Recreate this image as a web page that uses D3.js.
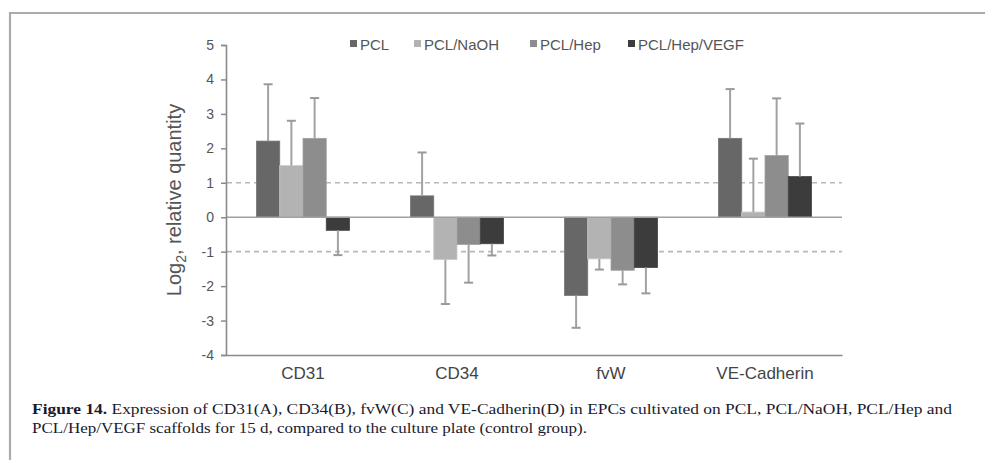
<!DOCTYPE html>
<html>
<head>
<meta charset="utf-8">
<script src="https://cdn.jsdelivr.net/npm/d3@7"></script>
<style>
  html, body { margin: 0; padding: 0; background: #fff; }
  svg { display: block; }
</style>
</head>
<body>
<svg id="chart" width="985" height="460"></svg>
<script>
// Genes measured and the four scaffold groups
const categories = ["CD31", "CD34", "fvW", "VE-Cadherin"];
const seriesNames = ["PCL", "PCL/NaOH", "PCL/Hep", "PCL/Hep/VEGF"];
const seriesColors = ["#676767", "#b3b3b3", "#8d8d8d", "#3c3c3c"];

// log2 relative quantity per gene, one array per scaffold
const valPCL      = [2.21, 0.62, -2.27, 2.29];
const valNaOH     = [1.50, -1.23, -1.21, 0.15];
const valHep      = [2.29, -0.79, -1.54, 1.79];
const valHepVEGF  = [-0.38, -0.77, -1.46, 1.18];

// end points of the error whiskers
const errPCL      = [3.86, 1.88, -3.21, 3.72];
const errNaOH     = [2.80, -2.52, -1.52, 1.70];
const errHep      = [3.46, -1.90, -1.95, 3.45];
const errHepVEGF  = [-1.10, -1.11, -2.21, 2.72];

const yTicks = [5, 4, 3, 2, 1, 0, -1, -2, -3, -4];
const refLines = [1, -1];

const values = [valPCL, valNaOH, valHep, valHepVEGF];
const errors = [errPCL, errNaOH, errHep, errHepVEGF];

const svg = d3.select("#chart");
const sans = "'Liberation Sans', Arial, sans-serif";

// page frame
svg.append("path")
  .attr("d", "M10,460 V13 H985")
  .attr("fill", "none")
  .attr("stroke", "#ababab")
  .attr("stroke-width", 2.2);

const x0 = d3.scaleBand().domain(categories).range([226, 842]).paddingInner(0).paddingOuter(0);
const x1 = d3.scaleBand().domain(seriesNames).range([0, x0.bandwidth()]).paddingInner(0).paddingOuter(1.31);
const y = d3.scaleLinear().domain([-4, 5]).range([355, 45]);

// dashed reference lines
svg.selectAll("line.ref").data(refLines).enter().append("line")
  .attr("class", "ref")
  .attr("x1", 227).attr("x2", 842)
  .attr("y1", d => y(d)).attr("y2", d => y(d))
  .attr("stroke", "#b8b8b8")
  .attr("stroke-width", 1.6)
  .attr("stroke-dasharray", "5,4");

// bars
const groups = svg.selectAll("g.grp").data(categories).enter().append("g")
  .attr("class", "grp")
  .attr("transform", d => `translate(${x0(d)},0)`);

seriesNames.forEach((s, si) => {
  groups.append("rect")
    .attr("x", x1(s))
    .attr("width", x1.bandwidth())
    .attr("y", (d, ci) => y(Math.max(0, values[si][ci])))
    .attr("height", (d, ci) => Math.abs(y(values[si][ci]) - y(0)))
    .attr("fill", seriesColors[si])
    .attr("stroke", d3.color(seriesColors[si]).brighter(0.35))
    .attr("stroke-width", 0.8);
});

// error whiskers
seriesNames.forEach((s, si) => {
  const cx = x1(s) + x1.bandwidth() / 2;
  groups.append("line")
    .attr("x1", cx).attr("x2", cx)
    .attr("y1", (d, ci) => y(values[si][ci]))
    .attr("y2", (d, ci) => y(errors[si][ci]))
    .attr("stroke", "#a2a2a2")
    .attr("stroke-width", 2);
  groups.append("line")
    .attr("x1", cx - 4.5).attr("x2", cx + 4.5)
    .attr("y1", (d, ci) => y(errors[si][ci]))
    .attr("y2", (d, ci) => y(errors[si][ci]))
    .attr("stroke", "#9a9a9a")
    .attr("stroke-width", 2);
});

// zero line
svg.append("line")
  .attr("x1", 226).attr("x2", 842)
  .attr("y1", y(0)).attr("y2", y(0))
  .attr("stroke", "#a0a0a0")
  .attr("stroke-width", 1.5);

// y axis
const yAxis = d3.axisLeft(y).tickValues(yTicks).tickSize(5).tickPadding(7).tickFormat(d => String(d));
const gy = svg.append("g").attr("transform", "translate(226,0)").call(yAxis);
gy.select(".domain").attr("stroke", "#8a8a8a").attr("stroke-width", 1.6);
gy.selectAll(".tick line").attr("stroke", "#8a8a8a").attr("stroke-width", 1.5);
gy.selectAll(".tick text")
  .attr("fill", "#555")
  .style("font-family", sans)
  .style("font-size", "14px");

// x axis
const xAxis = d3.axisBottom(x0).tickSize(0).tickPadding(12);
const gx = svg.append("g").attr("transform", `translate(0,${y(-4)})`).call(xAxis);
gx.select(".domain").attr("stroke", "#8a8a8a").attr("stroke-width", 1.6);
gx.selectAll(".tick text")
  .attr("fill", "#444")
  .style("font-family", sans)
  .style("font-size", "17px");

// y axis title
const yt = svg.append("text")
  .attr("transform", "translate(181,200) rotate(-90)")
  .attr("text-anchor", "middle")
  .attr("fill", "#555")
  .style("font-family", sans)
  .style("font-size", "20px");
yt.append("tspan").text("Log");
yt.append("tspan").attr("dy", 5).style("font-size", "14px").text("2");
yt.append("tspan").attr("dy", -5).text(", relative quantity");

// legend
const legendX = [350, 414, 530, 628];
const lg = svg.append("g").selectAll("g").data(seriesNames).enter().append("g")
  .attr("transform", (d, i) => `translate(${legendX[i]},45)`);
lg.append("rect")
  .attr("x", 0).attr("y", -5).attr("width", 7).attr("height", 7)
  .attr("fill", (d, i) => seriesColors[i]);
lg.append("text")
  .attr("x", 10).attr("y", 5)
  .attr("fill", "#555")
  .style("font-family", sans)
  .style("font-size", "15px")
  .text(d => d);

// caption
const cap = svg.append("g").style("font-family", "'Liberation Serif', 'Times New Roman', serif")
  .style("font-size", "14.5px").attr("fill", "#1a1a2e");
const l1 = cap.append("text").attr("x", 32).attr("y", 414)
  .attr("textLength", 920).attr("lengthAdjust", "spacingAndGlyphs");
l1.append("tspan").style("font-weight", "bold").text("Figure 14. ");
l1.append("tspan").text("Expression of CD31(A), CD34(B), fvW(C) and VE-Cadherin(D) in EPCs cultivated on PCL, PCL/NaOH, PCL/Hep and");
cap.append("text").attr("x", 32).attr("y", 433)
  .attr("textLength", 555).attr("lengthAdjust", "spacingAndGlyphs")
  .text("PCL/Hep/VEGF scaffolds for 15 d, compared to the culture plate (control group).");
</script>
</body>
</html>
